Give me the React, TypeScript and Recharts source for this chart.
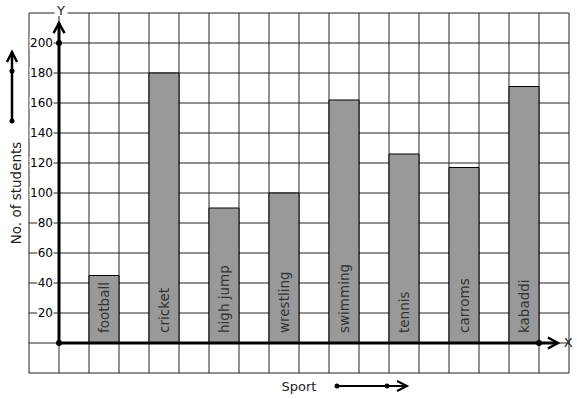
import React from 'react';
import {
  BarChart,
  Bar,
  XAxis,
  YAxis,
  CartesianGrid,
  ReferenceLine,
  ReferenceDot,
  LabelList,
  Label,
} from 'recharts';

const sports = ['football', 'cricket', 'high jump', 'wrestling', 'swimming', 'tennis', 'carroms', 'kabaddi'];
const students = [45, 180, 90, 100, 162, 126, 117, 171];
const yTickValues = [20, 40, 60, 80, 100, 120, 140, 160, 180, 200];
const gridYTicks = [-20, 0, 20, 40, 60, 80, 100, 120, 140, 160, 180, 200, 220];
const gridXTicks = [0, 1, 2, 3, 4, 5, 6, 7, 8, 9, 10, 11, 12, 13, 14, 15, 16, 17, 18];
const columnCount = 18;
const firstBarColumn = 2;
const columnStep = 2;

const data = Array.from({ length: columnCount }, (_, i) => {
  const k = (i - firstBarColumn) / columnStep;
  if (i >= firstBarColumn && Number.isInteger(k) && k < sports.length) {
    return { col: `c${i}`, pos: i + 0.5, name: sports[k], value: students[k] };
  }
  return { col: `c${i}`, pos: i + 0.5, name: '', value: null as number | null };
});

const FONT = 'DejaVu Sans, Bitstream Vera Sans, sans-serif';

const YTick = (props: any) => {
  const { x, y, payload } = props;
  const label = String(payload.value);
  const w = label.length * 7.63;
  const right = x + 24;
  return (
    <g>
      <rect x={right - w - 0.5} y={y - 6} width={w + 1} height={12} fill="#fff" />
      <text x={right} y={y + 4.3} textAnchor="end" fontSize={12} fill="#000" fontFamily={FONT}>
        {label}
      </text>
    </g>
  );
};

const BarName = (props: any) => {
  const { x, y, width, height, value } = props;
  if (!value) return null;
  const cx = Number(x) + Number(width) / 2 + 5;
  const by = Number(y) + Number(height) - 10;
  return (
    <text
      x={cx}
      y={by}
      transform={`rotate(-90 ${cx} ${by})`}
      fontSize={13.5}
      fill="#333"
      textAnchor="start"
      fontFamily={FONT}
    >
      {value}
    </text>
  );
};

const YAxisTitle = (props: any) => {
  const vb = props.viewBox || {};
  const cy = vb.y + vb.height / 2;
  const bx = 20.5;
  const ax = 12;
  return (
    <g>
      <text
        x={bx}
        y={cy}
        transform={`rotate(-90 ${bx} ${cy})`}
        textAnchor="middle"
        fontSize={13.5}
        fill="#222"
        fontFamily={FONT}
      >
        No. of students
      </text>
      <line x1={ax} y1={cy - 72} x2={ax} y2={cy - 141} stroke="#000" strokeWidth={2.5} />
      <circle cx={ax} cy={cy - 72} r={2.5} fill="#000" />
      <circle cx={ax} cy={cy - 122} r={2.5} fill="#000" />
      <path
        d={`M ${ax - 5} ${cy - 131} L ${ax} ${cy - 141} L ${ax + 5} ${cy - 131}`}
        fill="none"
        stroke="#000"
        strokeWidth={2.5}
      />
    </g>
  );
};

const SportTitle = (props: any) => {
  const vb = props.viewBox || {};
  const cx = vb.x + vb.width / 2;
  const cy = vb.y + vb.height / 2;
  return (
    <g>
      <text x={cx} y={cy + 4.5} textAnchor="middle" fontSize={13} fill="#222" fontFamily={FONT}>
        Sport
      </text>
      <line x1={cx + 38} y1={cy} x2={cx + 108} y2={cy} stroke="#000" strokeWidth={2} />
      <circle cx={cx + 38} cy={cy} r={2.5} fill="#000" />
      <circle cx={cx + 88} cy={cy} r={2.5} fill="#000" />
      <path
        d={`M ${cx + 98} ${cy - 5} L ${cx + 108} ${cy} L ${cx + 98} ${cy + 5}`}
        fill="none"
        stroke="#000"
        strokeWidth={2}
      />
    </g>
  );
};

const UpArrowHead = (props: any) => {
  const { cx, cy } = props;
  return (
    <path
      d={`M ${cx - 5.5} ${cy + 10} L ${cx} ${cy} L ${cx + 5.5} ${cy + 10}`}
      fill="none"
      stroke="#000"
      strokeWidth={2.5}
    />
  );
};

const RightArrowHead = (props: any) => {
  const { cx, cy } = props;
  return (
    <path
      d={`M ${cx - 10} ${cy - 5.5} L ${cx} ${cy} L ${cx - 10} ${cy + 5.5}`}
      fill="none"
      stroke="#000"
      strokeWidth={2.5}
    />
  );
};

const AxisLetter = (letter: string, dx: number, dy: number, bgW: number) => (props: any) => {
  const { cx, cy } = props;
  return (
    <g>
      {bgW > 0 && <rect x={cx + dx - bgW / 2} y={cy + dy - 7} width={bgW} height={13} fill="#fff" />}
      <text x={cx + dx} y={cy + dy + 4.5} textAnchor="middle" fontSize={13} fill="#222" fontFamily={FONT}>
        {letter}
      </text>
    </g>
  );
};

const Dot = (props: any) => <circle cx={props.cx} cy={props.cy} r={3} fill="#000" />;

export default function App() {
  return (
    <div
      style={{
        position: 'absolute',
        left: 0,
        top: 0,
        width: 577,
        height: 399,
        background: '#fff',
        fontFamily: FONT,
      }}
    >
      <BarChart
        width={577}
        height={399}
        data={data}
        margin={{ top: 13, right: 8, bottom: 0, left: 0 }}
        barCategoryGap={0}
        barGap={0}
      >
        <CartesianGrid xAxisId="grid" yAxisId="grid" stroke="#222" strokeWidth={1} fill="#fff" />
        <XAxis dataKey="col" type="category" height={26} tick={false} axisLine={false} tickLine={false}>
          <Label content={SportTitle} />
        </XAxis>
        <XAxis
          xAxisId="grid"
          dataKey="pos"
          type="number"
          domain={[0, 18]}
          ticks={gridXTicks}
          hide
          allowDataOverflow
        />
        <YAxis
          type="number"
          domain={[-20, 220]}
          ticks={yTickValues}
          width={29}
          axisLine={false}
          tickLine={false}
          tickSize={0}
          tickMargin={0}
          tick={<YTick />}
          interval={0}
          allowDataOverflow
        >
          <Label content={YAxisTitle} />
        </YAxis>
        <YAxis yAxisId="grid" type="number" domain={[-20, 220]} ticks={gridYTicks} hide allowDataOverflow />
        <Bar dataKey="value" fill="#999999" stroke="#000" strokeWidth={1} isAnimationActive={false}>
          <LabelList dataKey="name" content={BarName} />
        </Bar>
        <ReferenceLine
          xAxisId="grid"
          yAxisId="grid"
          segment={[{ x: 1, y: 0 }, { x: 1, y: 213.3 }]}
          stroke="#000"
          strokeWidth={3}
          ifOverflow="visible"
        />
        <ReferenceLine
          xAxisId="grid"
          yAxisId="grid"
          segment={[{ x: 1, y: 0 }, { x: 17.63, y: 0 }]}
          stroke="#000"
          strokeWidth={3}
          ifOverflow="visible"
        />
        <ReferenceDot xAxisId="grid" yAxisId="grid" x={1} y={213.3} shape={UpArrowHead} ifOverflow="visible" />
        <ReferenceDot xAxisId="grid" yAxisId="grid" x={17.63} y={0} shape={RightArrowHead} ifOverflow="visible" />
        <ReferenceDot xAxisId="grid" yAxisId="grid" x={1} y={0} shape={Dot} ifOverflow="visible" />
        <ReferenceDot xAxisId="grid" yAxisId="grid" x={1} y={200} shape={Dot} ifOverflow="visible" />
        <ReferenceDot xAxisId="grid" yAxisId="grid" x={17} y={0} shape={Dot} ifOverflow="visible" />
        <ReferenceDot
          xAxisId="grid"
          yAxisId="grid"
          x={1}
          y={220}
          shape={AxisLetter('Y', 2, -3, 13)}
          ifOverflow="visible"
        />
        <ReferenceDot
          xAxisId="grid"
          yAxisId="grid"
          x={17.97}
          y={0}
          shape={AxisLetter('X', 0, -1, 0)}
          ifOverflow="visible"
        />
      </BarChart>
    </div>
  );
}
